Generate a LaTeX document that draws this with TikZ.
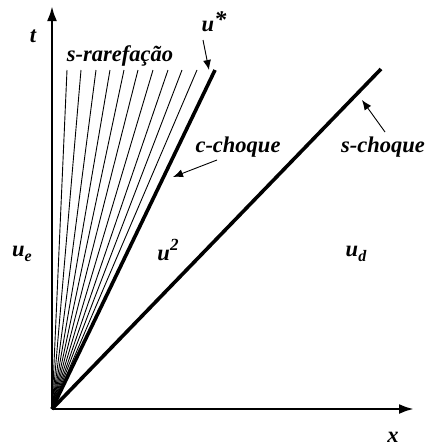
\documentclass[tikz,border=0pt]{standalone}
\usepackage{fontspec}
\setmainfont{Liberation Serif}
\usetikzlibrary{arrows.meta}
\newcommand\mysup[1]{\raisebox{0.42em}{\fontsize{17}{18}\selectfont #1}}
\newcommand\mystar{\raisebox{0.18em}{\fontsize{24}{25}\selectfont *}}
\newcommand\mysub[1]{\raisebox{-0.2em}{\fontsize{16}{17}\selectfont #1}}
\begin{document}
\begin{tikzpicture}[x=1pt,y=-1pt,
  axis/.style={line width=2.6pt,-{Latex[length=15pt,width=10pt]}},
  wave/.style={line width=3.6pt},
  fan/.style={line width=0.9pt},
  lbl/.style={font=\fontsize{22.5}{24}\selectfont\bfseries\itshape,inner sep=0pt},
  ptr/.style={line width=0.9pt,-{Latex[length=10pt,width=8pt]}}]
\useasboundingbox (0,0) rectangle (426,447);
\coordinate (O) at (52,409);
\coordinate (tend) at (52,6);
\coordinate (xend) at (414,409);
\draw[axis] (O) -- (tend);
\draw[axis] (O) -- (xend);
\foreach \xx [count=\i] in {67,81,96,110,124,138,153,168,182,197}
  \coordinate (f\i) at (\xx,70);
\foreach \i in {1,...,10} \draw[fan] (O) -- (f\i);
\coordinate (c) at (215,70);
\coordinate (s) at (381,69);
\draw[wave] (O) -- (c);
\draw[wave] (O) -- (s);
\node[lbl] (tl) at (33,36) {t};
\node[lbl] (xl) at (393,437) {x};
\node[lbl] (us) at (214,22) {u\mystar};
\node[lbl] (sr) at (120,56) {s-rarefação};
\node[lbl] (cc) at (238,147) {c-choque};
\node[lbl] (sc) at (383,147) {s-choque};
\node[lbl] (ue) at (22,254) {u\mysub{e}};
\node[lbl] (u2) at (168,250) {u\mysup{2}};
\node[lbl] (ud) at (356,254) {u\mysub{d}};
\coordinate (uss) at (203,40);
\coordinate (ust) at (209,70);
\draw[ptr] (uss) -- (ust);
\coordinate (ccs) at (217,160);
\coordinate (cct) at (173,177);
\draw[ptr] (ccs) -- (cct);
\coordinate (scs) at (385,132);
\coordinate (sct) at (362,100);
\draw[ptr] (scs) -- (sct);
\end{tikzpicture}
\end{document}
